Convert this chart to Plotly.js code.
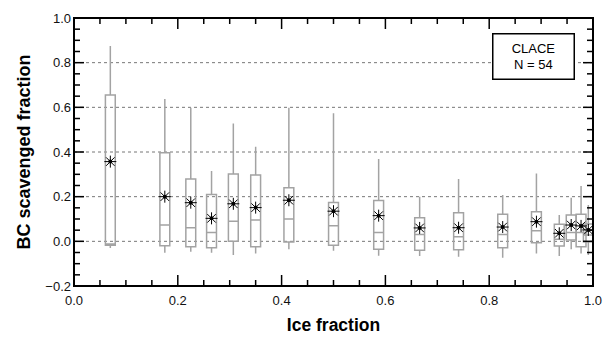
<!DOCTYPE html>
<html>
<head>
<meta charset="utf-8">
<script src="https://cdn.plot.ly/plotly-3.0.1.min.js"></script>
<style>html,body{margin:0;padding:0;background:#fff;}#chart{width:606px;height:343px;}</style>
</head>
<body>
<div id="chart"></div>
<script>
// Ice fraction bin positions
const iceFraction = [0.070, 0.175, 0.225, 0.265, 0.307, 0.350, 0.414, 0.500, 0.587, 0.666, 0.741, 0.826, 0.891, 0.935, 0.958, 0.977, 0.991];
// BC scavenged fraction statistics per bin
const upperWhisker = [0.875, 0.637, 0.598, 0.315, 0.528, 0.424, 0.598, 0.573, 0.369, 0.200, 0.279, 0.207, 0.304, 0.118, 0.195, 0.248, 0.163];
const upperQuartile = [0.655, 0.397, 0.279, 0.210, 0.302, 0.297, 0.240, 0.174, 0.183, 0.106, 0.128, 0.121, 0.133, 0.076, 0.118, 0.121, 0.078];
const medianVals = [-0.012, 0.073, 0.061, 0.039, 0.090, 0.095, 0.100, 0.070, 0.040, 0.031, 0.021, 0.031, 0.047, 0.009, 0.039, 0.039, 0.028];
const lowerQuartile = [-0.017, -0.020, -0.024, -0.029, 0.000, -0.024, -0.003, -0.017, -0.035, -0.040, -0.038, -0.029, -0.006, -0.021, 0.006, -0.024, -0.002];
const lowerWhisker = [-0.030, -0.051, -0.047, -0.051, -0.061, -0.054, -0.036, -0.042, -0.064, -0.066, -0.069, -0.073, -0.054, -0.066, -0.036, -0.054, -0.061];
const meanVals = [0.357, 0.200, 0.173, 0.103, 0.168, 0.151, 0.184, 0.135, 0.115, 0.060, 0.061, 0.064, 0.088, 0.036, 0.073, 0.069, 0.051];
const xTickVals = [0, 0.2, 0.4, 0.6, 0.8, 1.0];
const yTickVals = [-0.2, 0, 0.2, 0.4, 0.6, 0.8, 1.0];
const xRange = [0, 1.0];
const yRange = [-0.2, 1.0];
const minorStep = 0.05;

const W = 606, H = 343;
const M = {l: 74, r: 13, t: 18, b: 57};
const plotW = W - M.l - M.r, plotH = H - M.t - M.b;

const gray = '#a3a3a3';
const fontFam = 'Arial, "Liberation Sans", sans-serif';
const traces = [
  {
    type: 'box',
    x: iceFraction,
    q1: lowerQuartile,
    median: medianVals,
    q3: upperQuartile,
    lowerfence: lowerWhisker,
    upperfence: upperWhisker,
    width: 0.019,
    whiskerwidth: 0,
    boxpoints: false,
    line: {color: gray, width: 1.5},
    fillcolor: 'rgba(255,255,255,0)',
    hoverinfo: 'skip',
    showlegend: false
  },
  {
    type: 'scatter', mode: 'markers',
    x: iceFraction, y: meanVals,
    marker: {symbol: 'asterisk-open', size: 10, color: '#000', line: {color: '#000', width: 1}},
    showlegend: false, hoverinfo: 'skip'
  },
  {
    type: 'scatter', mode: 'markers',
    x: iceFraction, y: meanVals,
    marker: {symbol: 'circle', size: 4, color: '#000'},
    showlegend: false, hoverinfo: 'skip'
  }
];

// axis decorations (grid, frame, inward ticks on all four sides) built from the tick arrays
const shapes = [];
yTickVals.filter(v => v > yRange[0] + 1e-9 && v < yRange[1] - 1e-9).forEach(v => {
  shapes.push({type: 'line', xref: 'paper', x0: 0, x1: 1, yref: 'y', y0: v, y1: v,
               line: {color: '#777', width: 1, dash: 'dot'}, layer: 'below'});
});
function steps(r) { const out = []; const n = Math.round((r[1] - r[0]) / minorStep); for (let i = 0; i <= n; i++) out.push(r[0] + i * minorStep); return out; }
function isMajor(v, arr) { return arr.some(t => Math.abs(t - v) < 1e-6); }
const tickLine = {color: '#000', width: 1.5};
steps(xRange).forEach(v => {
  const len = (isMajor(v, xTickVals) ? 11 : 6) / plotH;
  shapes.push({type: 'line', xref: 'x', x0: v, x1: v, yref: 'paper', y0: 0, y1: len, line: tickLine, layer: 'above'});
  shapes.push({type: 'line', xref: 'x', x0: v, x1: v, yref: 'paper', y0: 1, y1: 1 - len, line: tickLine, layer: 'above'});
});
steps(yRange).forEach(v => {
  const len = (isMajor(v, yTickVals) ? 10 : 6) / plotW;
  shapes.push({type: 'line', yref: 'y', y0: v, y1: v, xref: 'paper', x0: 0, x1: len, line: tickLine, layer: 'above'});
  shapes.push({type: 'line', yref: 'y', y0: v, y1: v, xref: 'paper', x0: 1, x1: 1 - len, line: tickLine, layer: 'above'});
});
shapes.push({type: 'rect', xref: 'paper', yref: 'paper', x0: 0, x1: 1, y0: 0, y1: 1,
             line: {color: '#000', width: 2}, fillcolor: 'rgba(0,0,0,0)', layer: 'above'});

const axisFont = {family: fontFam, size: 13, color: '#111'};
const layout = {
  width: W, height: H,
  margin: M,
  paper_bgcolor: '#fff', plot_bgcolor: '#fff',
  font: axisFont,
  showlegend: false,
  shapes: shapes,
  xaxis: {
    range: xRange,
    tickmode: 'array', tickvals: xTickVals, tickformat: '.1f',
    ticks: '', showline: false,
    showgrid: false, zeroline: false,
    tickfont: axisFont, ticklabelstandoff: 5,
    title: {text: '<b>Ice fraction</b>', font: {family: fontFam, size: 17.5, color: '#000'}, standoff: 11}
  },
  yaxis: {
    range: yRange,
    tickmode: 'array', tickvals: yTickVals, tickformat: '.1f',
    ticks: '', showline: false,
    showgrid: false, zeroline: false,
    tickfont: axisFont, ticklabelstandoff: 2,
    title: {text: '<b>BC scavenged fraction</b>', font: {family: fontFam, size: 18, color: '#000'}, standoff: 10}
  },
  annotations: [{
    xref: 'paper', yref: 'paper', x: 0.886, y: 0.858,
    xanchor: 'center', yanchor: 'middle',
    text: 'CLACE<br>N = 54', showarrow: false,
    font: {family: fontFam, size: 13, color: '#000'},
    bgcolor: '#fff', bordercolor: '#000', borderwidth: 1.5, borderpad: 4,
    width: 72, height: 36, align: 'center'
  }]
};

Plotly.newPlot('chart', traces, layout, {staticPlot: true, displayModeBar: false});
</script>
</body>
</html>
